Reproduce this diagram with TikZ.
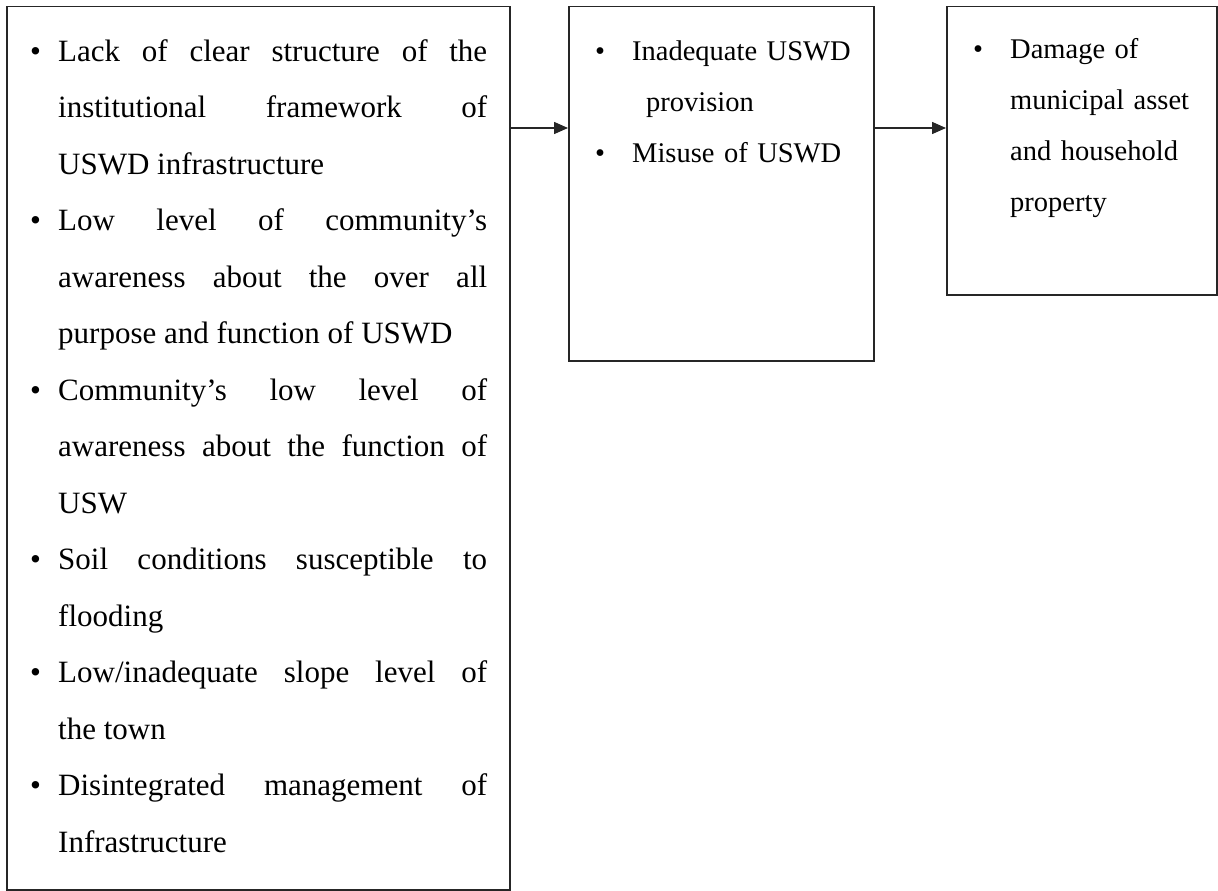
\documentclass[tikz,border=0pt]{standalone}
\usepackage{fontspec}
\setmainfont{Liberation Serif}
\usetikzlibrary{positioning,arrows.meta}

% bullet item: #1 hanging indent, #2 bullet box, #3 text
\newcommand{\listitem}[3]{\par\noindent\hangindent=#1\hangafter=1\strut\hbox to #2{\textbullet\hfil}#3\par}

\tikzset{
	box/.style={draw=black!85, line width=1.5pt, anchor=north west, inner sep=0pt},
	boxtext/.style={anchor=north west, inner sep=0pt},
	bigfont/.style={font=\fontsize{31}{56.5}\selectfont},
	smallfont/.style={font=\fontsize{28.5}{51}\selectfont},
	flow/.style={draw=black!85, line width=1.5pt, -{Triangle[length=14pt,width=12pt]}}
}

\begin{document}
\begin{tikzpicture}[x=1pt,y=-1pt]
	\useasboundingbox (0,0) rectangle (1218,891);

	% Kaesten
	\node[box, minimum width=503pt, minimum height=883pt] (causes) at (6,6) {};
	\node[box, minimum width=305pt, minimum height=354pt] (inter) at (568,6) {};
	\node[box, minimum width=270pt, minimum height=288pt] (effect) at (946,6) {};

	% Texte
	\node[boxtext, bigfont, text width=457pt, align=justify] (causestext) at (30,4.45) {
		\listitem{28pt}{28pt}{Lack of clear structure of the\linebreak institutional framework of\linebreak USWD infrastructure}
		\listitem{28pt}{28pt}{Low level of community's\linebreak awareness about the over all\linebreak purpose and function of USWD}
		\listitem{28pt}{28pt}{Community's low level of\linebreak awareness about the function of\linebreak USW}
		\listitem{28pt}{28pt}{Soil conditions susceptible to\linebreak flooding}
		\listitem{28pt}{28pt}{Low/inadequate slope level of\linebreak the town}
		\listitem{28pt}{28pt}{Disintegrated management of\linebreak Infrastructure}
	};
	\node[boxtext, smallfont, text width=270pt, align=left] (intertext) at (595,9.3) {
		\listitem{51pt}{37pt}{Inadequate USWD\linebreak provision}
		\listitem{37pt}{37pt}{Misuse of USWD}
	};
	\node[boxtext, smallfont, text width=232pt, align=left] (effecttext) at (973,7.3) {
		\listitem{37pt}{37pt}{Damage of\linebreak municipal asset\linebreak and household\linebreak property}
	};

	% Pfeile
	\coordinate (arrowrow) at (0,128);
	\foreach \from/\to in {causes/inter, inter/effect}
		\draw[flow] (\from.east |- arrowrow) -- (\to.west |- arrowrow);
\end{tikzpicture}
\end{document}
